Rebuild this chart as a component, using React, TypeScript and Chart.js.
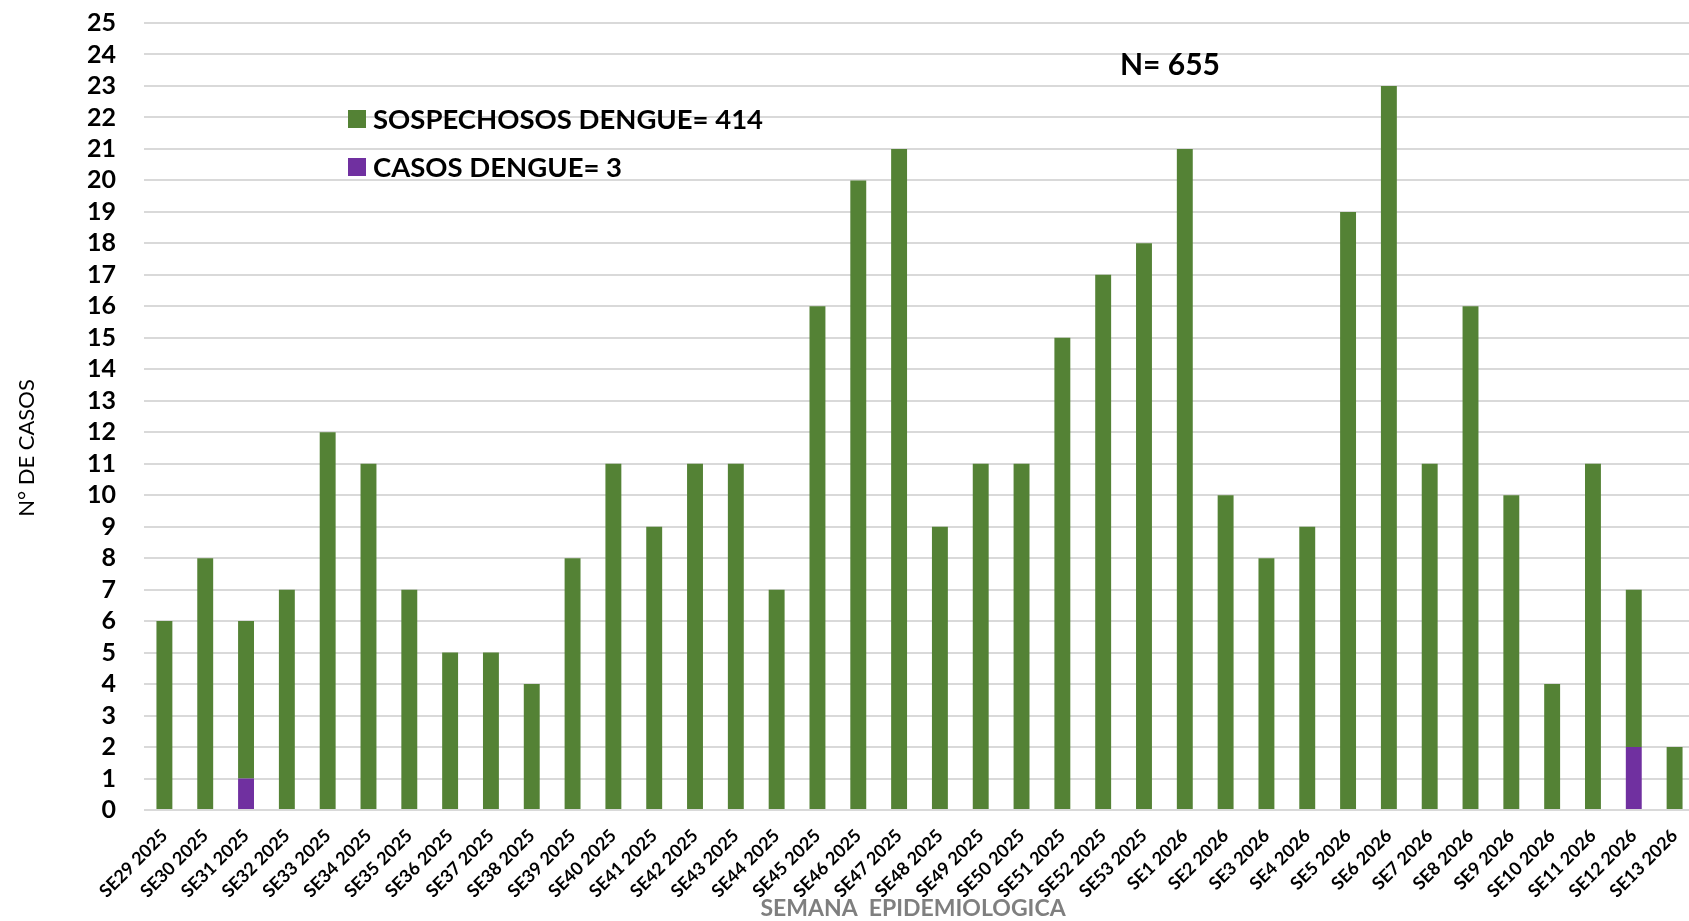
import React, { useEffect, useRef } from 'react';
import { Chart, registerables } from 'chart.js';

Chart.register(...registerables);

const categories = [
  'SE29 2025', 'SE30 2025', 'SE31 2025', 'SE32 2025', 'SE33 2025', 'SE34 2025', 'SE35 2025',
  'SE36 2025', 'SE37 2025', 'SE38 2025', 'SE39 2025', 'SE40 2025', 'SE41 2025', 'SE42 2025',
  'SE43 2025', 'SE44 2025', 'SE45 2025', 'SE46 2025', 'SE47 2025', 'SE48 2025', 'SE49 2025',
  'SE50 2025', 'SE51 2025', 'SE52 2025', 'SE53 2025', 'SE1 2026', 'SE2 2026', 'SE3 2026',
  'SE4 2026', 'SE5 2026', 'SE6 2026', 'SE7 2026', 'SE8 2026', 'SE9 2026', 'SE10 2026',
  'SE11 2026', 'SE12 2026', 'SE13 2026',
];

const sospechosos = [
  6, 8, 5, 7, 12, 11, 7, 5, 5, 4, 8, 11, 9, 11, 11, 7, 16, 20, 21, 9,
  11, 11, 15, 17, 18, 21, 10, 8, 9, 19, 23, 11, 16, 10, 4, 11, 5, 2,
];

const casos = [
  0, 0, 1, 0, 0, 0, 0, 0, 0, 0, 0, 0, 0, 0, 0, 0, 0, 0, 0, 0,
  0, 0, 0, 0, 0, 0, 0, 0, 0, 0, 0, 0, 0, 0, 0, 0, 2, 0,
];

const sospechososLabel = 'SOSPECHOSOS DENGUE= 414';
const casosLabel = 'CASOS DENGUE= 3';
const totalLabel = 'N= 655';
const yTitle = 'N° DE CASOS';
const xTitle = 'SEMANA  EPIDEMIOLOGICA';

const GREEN = '#548235';
const PURPLE = '#7030A0';
const FONT = "Lato, 'Open Sans', 'DejaVu Sans', sans-serif";

const overlayPlugin = {
  id: 'overlay',
  afterDraw(chart: any) {
    const ctx = chart.ctx as CanvasRenderingContext2D;
    // Y title
    ctx.save();
    ctx.translate(27, 448);
    ctx.rotate(-Math.PI / 2);
    ctx.font = `22px ${FONT}`;
    ctx.fillStyle = '#000';
    ctx.textAlign = 'center';
    ctx.textBaseline = 'middle';
    ctx.fillText(yTitle, 0, 0);
    ctx.restore();

    // X title
    ctx.save();
    ctx.font = `bold 23px ${FONT}`;
    ctx.fillStyle = '#7f7f7f';
    ctx.textAlign = 'center';
    ctx.textBaseline = 'middle';
    ctx.fillText(xTitle, 913, 909);
    ctx.restore();

    // N annotation
    ctx.save();
    ctx.font = `bold 30px ${FONT}`;
    ctx.fillStyle = '#000';
    ctx.textAlign = 'left';
    ctx.textBaseline = 'middle';
    ctx.fillText(totalLabel, 1120, 65);
    ctx.restore();

    // Legend
    const ds = chart.data.datasets;
    const items = [ds[1], ds[0]];
    const ys = [119, 167];
    ctx.save();
    ctx.font = `bold 27.5px ${FONT}`;
    ctx.textAlign = 'left';
    ctx.textBaseline = 'middle';
    items.forEach((d: any, i: number) => {
      ctx.fillStyle = d.backgroundColor;
      ctx.fillRect(348, ys[i] - 9, 18, 18);
      ctx.fillStyle = '#000';
      ctx.fillText(d.label, 373, ys[i] + 1);
    });
    ctx.restore();
  },
};

export default function App() {
  const canvasRef = useRef<HTMLCanvasElement | null>(null);

  useEffect(() => {
    document.body.style.overflow = 'hidden';
    const canvas = canvasRef.current;
    if (!canvas) return;
    const chart = new Chart(canvas, {
      type: 'bar',
      data: {
        labels: categories,
        datasets: [
          {
            label: casosLabel,
            data: casos,
            backgroundColor: PURPLE,
            barPercentage: 0.39,
            categoryPercentage: 1,
          },
          {
            label: sospechososLabel,
            data: sospechosos,
            backgroundColor: GREEN,
            barPercentage: 0.39,
            categoryPercentage: 1,
          },
        ],
      },
      options: {
        animation: false,
        responsive: true,
        maintainAspectRatio: false,
        layout: { padding: { top: 23, right: 5, bottom: 0, left: 0 } },
        plugins: {
          legend: { display: false },
          tooltip: { enabled: false },
        },
        scales: {
          x: {
            stacked: true,
            grid: { display: false },
            border: { display: false },
            ticks: {
              autoSkip: false,
              maxRotation: 45,
              minRotation: 45,
              padding: 7,
              color: '#000',
              font: { family: FONT, size: 18, weight: 'bold' },
            },
            afterFit: (s: any) => {
              s.height = 111;
            },
          },
          y: {
            stacked: true,
            min: 0,
            max: 25,
            ticks: {
              stepSize: 1,
              padding: 28,
              autoSkip: false,
              color: '#000',
              font: { family: FONT, size: 25, weight: 'bold', lineHeight: 1 },
            },
            grid: { color: '#d9d9d9', lineWidth: 2, drawTicks: false },
            border: { display: false },
            afterFit: (s: any) => {
              s.width = 144;
              s.paddingTop = 0;
              s.paddingBottom = 0;
            },
          },
        },
      },
      plugins: [overlayPlugin],
    });
    return () => chart.destroy();
  }, []);

  return (
    <div style={{ position: 'fixed', left: 0, top: 0, width: 1700, height: 921 }}>
      <canvas ref={canvasRef} />
    </div>
  );
}
